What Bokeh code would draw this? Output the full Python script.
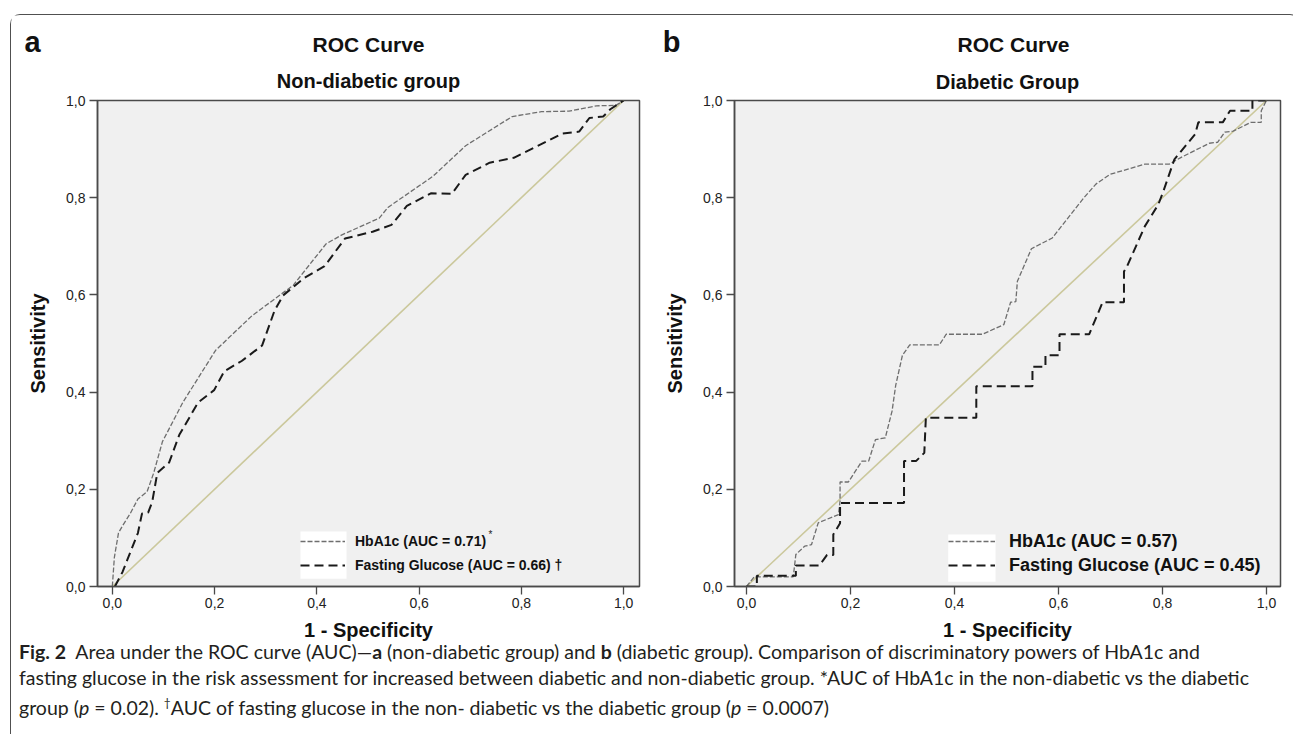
from bokeh.plotting import figure
from bokeh.models import (Range1d, FixedTicker, CustomJSTickFormatter, Legend, LegendItem,
                          Label, BoxAnnotation, Div, Title)
from bokeh.layouts import row, column
from bokeh.embed import file_html
from bokeh.resources import INLINE
from bokeh.core.properties import value

TICKS = [0.0, 0.2, 0.4, 0.6, 0.8, 1.0]
DIAG_X = [0.0, 1.0]
DIAG_Y = [0.0, 1.0]

# Panel a: non-diabetic group
A_HBA1C_X = [0.0, 0.004, 0.012, 0.02, 0.035, 0.05, 0.068, 0.081, 0.098, 0.138, 0.202, 0.273, 0.354,
             0.418, 0.448, 0.522, 0.539, 0.627, 0.691, 0.782, 0.839, 0.893, 0.947, 0.985, 1.0]
A_HBA1C_Y = [0.0, 0.06, 0.11, 0.125, 0.15, 0.18, 0.195, 0.234, 0.298, 0.379, 0.486, 0.557, 0.620,
             0.705, 0.723, 0.758, 0.780, 0.844, 0.907, 0.967, 0.977, 0.978, 0.989, 0.99, 1.0]
A_FG_X = [0.005, 0.02, 0.035, 0.05, 0.058, 0.07, 0.078, 0.088, 0.111, 0.131, 0.168, 0.199, 0.219,
          0.253, 0.293, 0.317, 0.334, 0.374, 0.415, 0.455, 0.509, 0.546, 0.576, 0.623, 0.664, 0.691,
          0.738, 0.785, 0.880, 0.913, 0.933, 0.960, 0.974, 1.0]
A_FG_Y = [0.0, 0.03, 0.07, 0.11, 0.15, 0.152, 0.174, 0.234, 0.255, 0.312, 0.379, 0.404, 0.443,
          0.464, 0.496, 0.567, 0.599, 0.634, 0.659, 0.716, 0.730, 0.744, 0.783, 0.809, 0.808, 0.847,
          0.872, 0.882, 0.932, 0.936, 0.964, 0.967, 0.982, 1.0]

# Panel b: diabetic group
B_HBA1C_X = [0.0, 0.015, 0.09, 0.095, 0.112, 0.125, 0.138, 0.177, 0.180, 0.180, 0.196, 0.222, 0.235,
             0.248, 0.267, 0.280, 0.287, 0.300, 0.314, 0.371, 0.384, 0.454, 0.495, 0.508, 0.518, 0.521,
             0.548, 0.588, 0.649, 0.672, 0.699, 0.766, 0.813, 0.836, 0.890, 0.906, 0.920, 0.936, 0.970,
             0.990, 0.990, 1.0]
B_HBA1C_Y = [0.0, 0.02, 0.02, 0.066, 0.083, 0.086, 0.131, 0.148, 0.176, 0.215, 0.215, 0.258, 0.258,
             0.302, 0.306, 0.361, 0.414, 0.476, 0.497, 0.497, 0.519, 0.519, 0.539, 0.585, 0.586, 0.628,
             0.695, 0.717, 0.800, 0.828, 0.848, 0.869, 0.869, 0.883, 0.912, 0.914, 0.935, 0.937, 0.955,
             0.955, 0.979, 1.0]
B_FG_X = [0.0, 0.02, 0.02, 0.095, 0.095, 0.14, 0.155, 0.167, 0.167, 0.18, 0.18, 0.303, 0.303, 0.326,
          0.342, 0.345, 0.442, 0.442, 0.550, 0.550, 0.575, 0.575, 0.602, 0.602, 0.659, 0.685, 0.726,
          0.726, 0.732, 0.766, 0.792, 0.802, 0.823, 0.863, 0.869, 0.916, 0.930, 0.973, 0.973, 1.0]
B_FG_Y = [0.0, 0.0, 0.022, 0.022, 0.043, 0.043, 0.065, 0.065, 0.107, 0.13, 0.172, 0.172, 0.258, 0.258,
          0.275, 0.347, 0.347, 0.412, 0.412, 0.452, 0.452, 0.476, 0.476, 0.519, 0.519, 0.585, 0.585,
          0.648, 0.659, 0.741, 0.786, 0.814, 0.879, 0.931, 0.955, 0.955, 0.979, 0.979, 1.0, 1.0]

A_LABELS = ["HbA1c (AUC = 0.71)", "Fasting Glucose (AUC = 0.66) \u2020"]
B_LABELS = ["HbA1c (AUC = 0.57)", "Fasting Glucose (AUC = 0.45)"]
PANEL_LETTERS = ["a", "b"]
MAIN_TITLES = ["ROC Curve", "ROC Curve"]
SUB_TITLES = ["Non-diabetic group", "Diabetic Group"]

FONT = "Liberation Sans"
FRAME = "#4a4a4a"
FH = 486
HDR_H = 43

# ---------- header with panel letters and main titles ----------
hdr = figure(width=1278, height=HDR_H, x_range=Range1d(0, 1278), y_range=Range1d(HDR_H, 0),
             output_backend="svg", toolbar_location=None, x_axis_type=None, y_axis_type=None,
             min_border=0)
hdr.outline_line_color = None
hdr.grid.visible = False
hdr.background_fill_color = "white"
hdr.border_fill_color = "white"
hdr.text(x=[21, 660], y=[26, 26], text=PANEL_LETTERS, text_font=value(FONT),
         text_font_size="29px", text_font_style="bold", text_color="#111111",
         text_align="center", text_baseline="middle")
hdr.text(x=[357, 1002], y=[29, 29], text=MAIN_TITLES, text_font=value(FONT),
         text_font_size="21px", text_font_style="bold", text_color="#111111",
         text_align="center", text_baseline="middle")


def make_panel(subtitle, hx, hy, fx, fy, labels, x_range, fw, mbl, mbr, mbt, mbb, tstand,
               legend_loc, box, lfont, gw, lstand, star=None):
    p = figure(frame_width=fw, frame_height=FH, x_range=Range1d(*x_range), y_range=Range1d(0, 1),
               output_backend="svg", toolbar_location=None,
               min_border_left=mbl, min_border_right=mbr, min_border_top=mbt, min_border_bottom=mbb)
    p.background_fill_color = "#f0f0f0"
    p.border_fill_color = "white"
    p.outline_line_color = FRAME
    p.outline_line_width = 1.5
    p.grid.visible = False

    for ax in (p.xaxis[0], p.yaxis[0]):
        ax.ticker = FixedTicker(ticks=TICKS)
        ax.formatter = CustomJSTickFormatter(code="return tick.toFixed(1).replace('.', ',');")
        ax.major_tick_out = 8
        ax.major_tick_in = 0
        ax.minor_tick_line_color = None
        ax.major_tick_line_color = FRAME
        ax.major_tick_line_width = 1.3
        ax.axis_line_color = FRAME
        ax.axis_line_width = 1.5
        ax.major_label_text_font = FONT
        ax.major_label_text_font_size = "14px"
        ax.major_label_text_color = "#222222"
        ax.axis_label_text_font = FONT
        ax.axis_label_text_font_size = "20px"
        ax.axis_label_text_font_style = "bold"
        ax.axis_label_text_color = "#111111"
    p.xaxis.axis_label = "1 - Specificity"
    p.yaxis.axis_label = "Sensitivity"
    p.xaxis.major_label_standoff = 3
    p.yaxis.major_label_standoff = 4
    p.xaxis.axis_label_standoff = 8
    p.yaxis.axis_label_standoff = 14

    p.add_layout(Title(text=subtitle, text_font=FONT, text_font_size="20px",
                       text_font_style="bold", text_color="#111111", align="center",
                       standoff=tstand), "above")

    p.line(DIAG_X, DIAG_Y, line_color="#cbc89c", line_width=1.6)
    rh = p.line(hx, hy, line_color="#6e6e6e", line_width=1.3, line_dash="5 2")
    rf = p.line(fx, fy, line_color="#1a1a1a", line_width=2, line_dash="9 5")

    p.add_layout(BoxAnnotation(left=box[0], right=box[1], bottom=box[2], top=box[3],
                               fill_color="white", fill_alpha=1, line_alpha=0))
    legend = Legend(items=[LegendItem(label=labels[0], renderers=[rh]),
                           LegendItem(label=labels[1], renderers=[rf])],
                    location=legend_loc, orientation="vertical",
                    label_text_font=FONT, label_text_font_size=lfont,
                    label_text_font_style="bold", label_text_color="#111111",
                    glyph_width=gw, glyph_height=22, label_height=22, spacing=2,
                    label_standoff=lstand, padding=0, margin=0,
                    background_fill_alpha=0, border_line_alpha=0)
    p.add_layout(legend, "center")
    if star is not None:
        p.add_layout(Label(x=star[0], y=star[1], x_units="screen", y_units="screen", text="*",
                           text_font=FONT, text_font_size="10px", text_color="#222222",
                           text_align="left", text_baseline="middle"))
    return p


pa = make_panel(SUB_TITLES[0], A_HBA1C_X, A_HBA1C_Y, A_FG_X, A_FG_Y, A_LABELS,
                (-0.029, 1.031), 542, 86, 20, 42, 60, 18, (203, 10),
                (0.368, 0.458, 0.016, 0.113), "14px", 45, 10, star=(391, 52))
pb = make_panel(SUB_TITLES[1], B_HBA1C_X, B_HBA1C_Y, B_FG_X, B_FG_Y, B_LABELS,
                (-0.023, 1.027), 546, 75, 9, 39, 63, 15, (214, 10),
                (0.388, 0.479, 0.01, 0.107), "18px", 47, 14)

caption_html = (
    '<div style="font-family:Lato, \'Open Sans\', sans-serif; font-size:19.5px; line-height:25.5px; '
    'color:#231f20; position:relative; top:-12px; padding-left:3px; white-space:nowrap;">'
    '<b>Fig.&nbsp;2</b>&nbsp;&nbsp;Area under the ROC curve (AUC)\u2014<b>a</b> (non-diabetic group) and '
    '<b>b</b> (diabetic group). Comparison of discriminatory powers of HbA1c and<br>'
    'fasting glucose in the risk assessment for increased between diabetic and non-diabetic group. '
    '*AUC of HbA1c in the non-diabetic vs the diabetic<br>'
    'group (<i>p</i> = 0.02). <sup style="font-size:12px">\u2020</sup>AUC of fasting glucose in the '
    'non- diabetic vs the diabetic group (<i>p</i> = 0.0007)'
    '</div>'
)
cap = Div(text=caption_html, width=1278, height=78)

layout = column(hdr, row(pa, pb), cap, margin=(14, 0, 0, 10),
                styles={"border": "1px solid #505050", "border-bottom": "none",
                        "border-radius": "10px 10px 0 0"})

open("out.html", "w").write(file_html(layout, INLINE))
